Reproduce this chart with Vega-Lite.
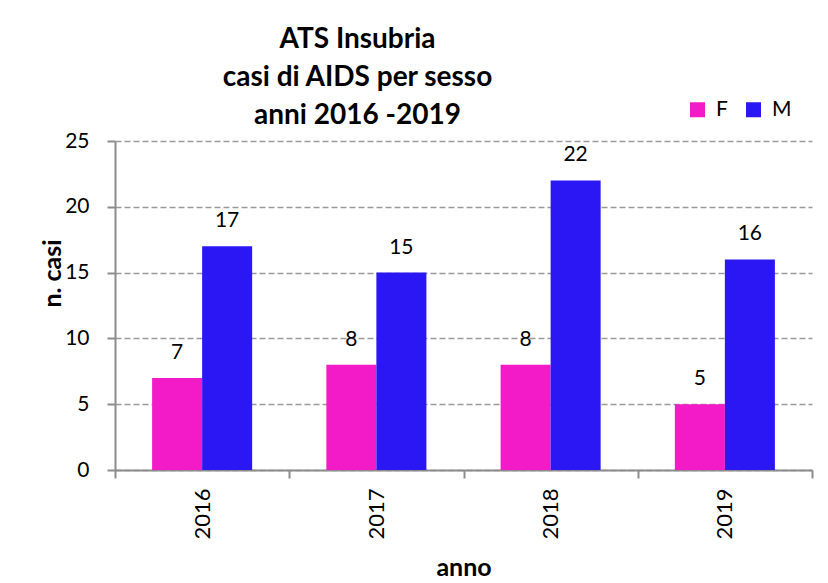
{
  "$schema": "https://vega.github.io/schema/vega-lite/v6.json",
  "width": 697,
  "height": 329,
  "autosize": {"type": "none"},
  "padding": {"left": 115, "top": 141, "right": 16, "bottom": 113},
  "background": "white",
  "title": {
    "text": ["ATS Insubria", "casi di AIDS per sesso", "anni 2016 -2019"],
    "font": "Lato",
    "fontSize": 28,
    "fontWeight": "bold",
    "color": "black",
    "lineHeight": 38,
    "anchor": "middle",
    "dx": -106,
    "dy": 45,
    "offset": 14
  },
  "data": {
    "values": [
      {"anno": "2016", "sesso": "F", "n": 7},
      {"anno": "2016", "sesso": "M", "n": 17},
      {"anno": "2017", "sesso": "F", "n": 8},
      {"anno": "2017", "sesso": "M", "n": 15},
      {"anno": "2018", "sesso": "F", "n": 8},
      {"anno": "2018", "sesso": "M", "n": 22},
      {"anno": "2019", "sesso": "F", "n": 5},
      {"anno": "2019", "sesso": "M", "n": 16}
    ]
  },
  "encoding": {
    "x": {
      "field": "anno",
      "type": "nominal",
      "scale": {"paddingInner": 0, "paddingOuter": 0},
      "axis": {
        "title": "anno",
        "tickBand": "extent",
        "labelAngle": 270,
        "labelFontSize": 22,
        "labelPadding": 10,
        "labelColor": "black",
        "domainColor": "#8c8c8c",
        "domainWidth": 2,
        "tickColor": "#8c8c8c",
        "tickWidth": 2,
        "tickSize": 8,
        "titleFontSize": 25,
        "titleFontWeight": "bold",
        "titleColor": "black",
        "titleY": 105,
        "titleBaseline": "alphabetic",
        "grid": false
      }
    },
    "xOffset": {
      "field": "sesso",
      "type": "nominal",
      "scale": {"paddingInner": 0, "paddingOuter": 0.742}
    },
    "y": {
      "field": "n",
      "type": "quantitative",
      "scale": {"domain": [0, 25]},
      "axis": {
        "title": "n. casi",
        "values": [0, 5, 10, 15, 20, 25],
        "labelFontSize": 21,
        "labelPadding": 18,
        "labelColor": "black",
        "domainColor": "#8c8c8c",
        "domainWidth": 2,
        "tickColor": "#8c8c8c",
        "tickWidth": 2,
        "tickSize": 8,
        "grid": true,
        "gridColor": "#9a9a9a",
        "gridDash": [6, 3],
        "gridWidth": 1.3,
        "titleFontSize": 25,
        "titleFontWeight": "bold",
        "titleColor": "black",
        "titleX": -55,
        "titleY": 132,
        "titleAlign": "center",
        "titleBaseline": "alphabetic",
        "titleAngle": 270
      }
    },
    "color": {
      "field": "sesso",
      "type": "nominal",
      "scale": {"domain": ["F", "M"], "range": ["#F31AC7", "#2A17F3"]},
      "legend": {
        "title": null,
        "orient": "none",
        "direction": "horizontal",
        "legendX": 572,
        "legendY": -42,
        "padding": 0,
        "symbolType": "square",
        "symbolSize": 225,
        "symbolStrokeWidth": 0,
        "labelFontSize": 21,
        "labelColor": "black",
        "labelOffset": 8,
        "columnPadding": 15
      }
    }
  },
  "layer": [
    {"mark": {"type": "bar"}},
    {
      "mark": {"type": "text", "baseline": "alphabetic", "dy": -19, "fontSize": 21, "color": "black"},
      "encoding": {
        "text": {"field": "n", "type": "quantitative"},
        "color": {"value": "black"}
      }
    }
  ],
  "config": {
    "font": "Lato",
    "view": {"stroke": null}
  }
}
